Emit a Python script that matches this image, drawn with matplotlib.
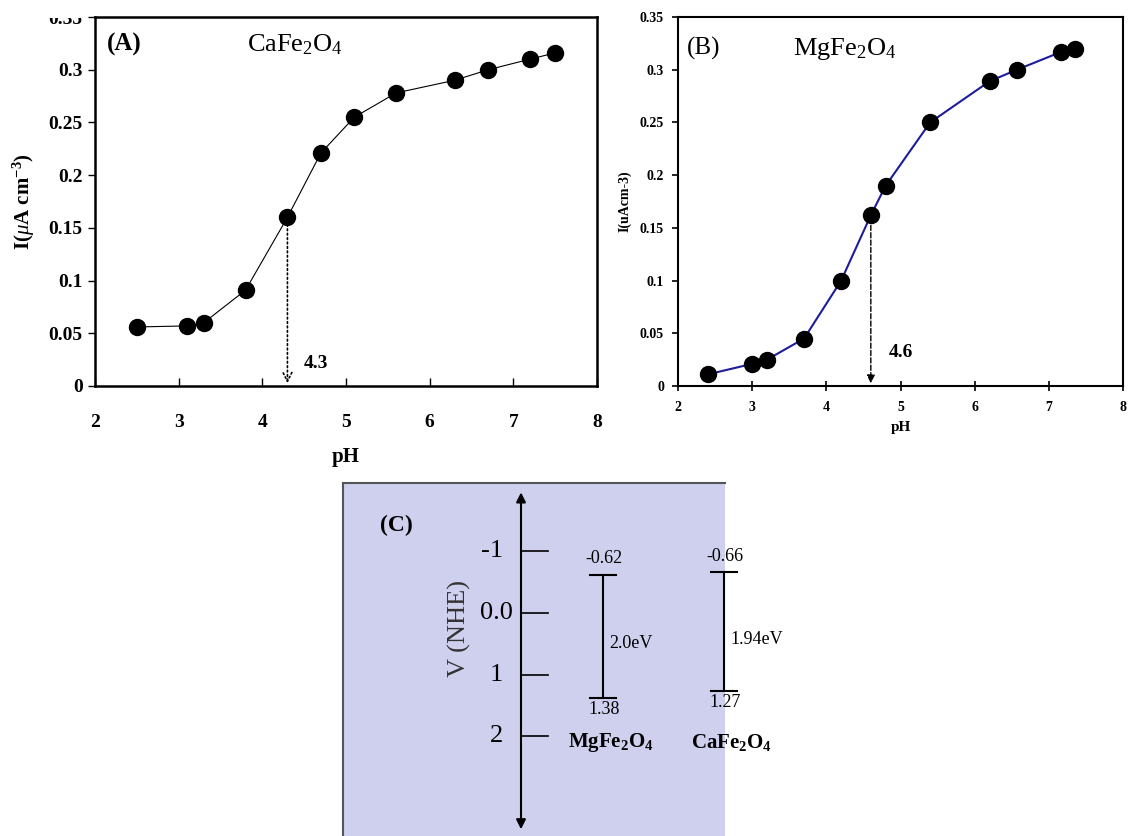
import matplotlib
matplotlib.use("Agg")
import matplotlib.pyplot as plt
from matplotlib.transforms import Bbox, TransformedBbox

plt.rcParams['font.family'] = ['Liberation Serif', 'DejaVu Serif']
plt.rcParams['mathtext.fontset'] = 'custom'
plt.rcParams['mathtext.rm'] = 'Liberation Serif'
plt.rcParams['mathtext.it'] = 'Liberation Serif:italic'
plt.rcParams['mathtext.bf'] = 'Liberation Serif:bold'

# -------------------------------
# DATA
# -------------------------------
ph_ca = [2.5, 3.1, 3.3, 3.8, 4.3, 4.7, 5.1, 5.6, 6.3, 6.7, 7.2, 7.5]
i_ca = [0.056, 0.057, 0.060, 0.091, 0.160, 0.221, 0.255, 0.278, 0.290, 0.300, 0.310, 0.316]

ph_mg = [2.4, 3.0, 3.2, 3.7, 4.2, 4.6, 4.8, 5.4, 6.2, 6.57, 7.17, 7.35]
i_mg = [0.011, 0.021, 0.025, 0.045, 0.100, 0.162, 0.190, 0.250, 0.289, 0.300, 0.317, 0.320]

pzc_ca = 4.3
pzc_mg = 4.6

x_ticks = [2, 3, 4, 5, 6, 7, 8]
y_ticks = [0, 0.05, 0.1, 0.15, 0.2, 0.25, 0.3, 0.35]
y_ticklabels = ['0', '0.05', '0.1', '0.15', '0.2', '0.25', '0.3', '0.35']

nhe_ticks = [-1, 0, 1, 2]
nhe_ticklabels = ['-1', '0.0', '1', '2']
materials = [r'$\mathbf{MgFe_2O_4}$', r'$\mathbf{CaFe_2O_4}$']
cb_edges = [-0.62, -0.66]
vb_edges = [1.38, 1.27]
band_gaps = ['2.0eV', '1.94eV']

fig = plt.figure(figsize=(11.3, 8.36), dpi=100)

# ===============================
# PANEL A
# ===============================
ax1 = fig.add_axes([95 / 1130, 450 / 836, 502 / 1130, 369 / 836])
ax1.plot(ph_ca, i_ca, color='black', lw=0.8, marker='o', ms=11.5, mfc='black', mec='black')
ax1.set_xlim(2, 8)
ax1.set_ylim(0, 0.35)
ax1.set_xticks(x_ticks)
ax1.set_yticks(y_ticks)
ax1.set_yticklabels(y_ticklabels)
ax1.tick_params(axis='x', direction='in', length=6, width=1, pad=20, labelsize=14)
ax1.tick_params(axis='y', direction='out', length=5, width=1, pad=4, labelsize=14)
for lab in ax1.get_xticklabels() + ax1.get_yticklabels():
    lab.set_fontweight('bold')
for s in ax1.spines.values():
    s.set_linewidth(1.8)
ax1.set_xlabel('pH', fontsize=15, fontweight='bold', labelpad=12)
ax1.set_ylabel(r'I($\mathit{\mu}$A cm$^{\mathbf{-3}}$)', fontsize=15, fontweight='bold', labelpad=8)
ax1.annotate('', xy=(pzc_ca, 0.0), xytext=(pzc_ca, i_ca[4]),
             arrowprops=dict(arrowstyle='->', ls=':', lw=1.2, color='black', mutation_scale=16))
ax1.text(pzc_ca + 0.2, 0.021, str(pzc_ca), fontsize=14, fontweight='bold', va='center')
ax1.text(2.14, 0.3235, '(A)', fontsize=18, fontweight='bold', va='center')
ax1.text(3.82, 0.3235, r'CaFe$_2$O$_4$', fontsize=19, va='center')

# top label is cut off in the source image
top_lab = ax1.get_yticklabels()[-1]
top_lab.set_clip_on(True)
top_lab.set_clip_box(TransformedBbox(Bbox([[0, 0], [1, (836 - 18) / 836]]), fig.transFigure))

# ===============================
# PANEL B
# ===============================
ax2 = fig.add_axes([678 / 1130, 450 / 836, 445 / 1130, 369 / 836])
ax2.plot(ph_mg, i_mg, color='#1c1c9c', lw=1.5, marker='o', ms=11.5, mfc='black', mec='black')
ax2.set_xlim(2, 8)
ax2.set_ylim(0, 0.35)
ax2.set_xticks(x_ticks)
ax2.set_yticks(y_ticks)
ax2.set_yticklabels(y_ticklabels)
ax2.tick_params(axis='x', direction='inout', length=7, width=1.2, pad=7, labelsize=10)
ax2.tick_params(axis='y', direction='out', length=4, width=1.2, pad=6, labelsize=10)
for lab in ax2.get_xticklabels() + ax2.get_yticklabels():
    lab.set_fontweight('bold')
for s in ax2.spines.values():
    s.set_linewidth(1.5)
ax2.set_xlabel('pH', fontsize=11, fontweight='bold', labelpad=5)
ax2.set_ylabel('I(uAcm-3)', fontsize=10, fontweight='bold', labelpad=6)
ax2.annotate('', xy=(pzc_mg, 0.0), xytext=(pzc_mg, i_mg[5]),
             arrowprops=dict(arrowstyle='-|>', ls='--', lw=1.0, color='black', mutation_scale=12))
ax2.text(4.84, 0.032, str(pzc_mg), fontsize=14, fontweight='bold', va='center')
ax2.text(2.12, 0.32, '(B)', fontsize=18, va='center')
ax2.text(3.55, 0.32, r'MgFe$_2$O$_4$', fontsize=19, va='center')

# ===============================
# PANEL C  (x in box pixels, y in V vs NHE)
# ===============================
ax3 = fig.add_axes([343 / 1130, 0, 382 / 1130, 353 / 836])
ax3.set_facecolor('#cfd0ee')
ax3.set_xlim(0, 382)
ax3.set_ylim(3.614, -2.107)
ax3.set_xticks([])
ax3.set_yticks([])
for side in ['right', 'bottom']:
    ax3.spines[side].set_visible(False)
for side in ['left', 'top']:
    ax3.spines[side].set_color('#555555')
    ax3.spines[side].set_linewidth(1.5)

axis_x = 178
ax3.annotate('', xy=(axis_x, -2.0), xytext=(axis_x, 3.55),
             arrowprops=dict(arrowstyle='<|-|>', lw=1.5, color='black', mutation_scale=14))
for v, lab in zip(nhe_ticks, nhe_ticklabels):
    ax3.plot([axis_x, axis_x + 27], [v, v], color='black', lw=1.2)
    ax3.text(axis_x - (8 if lab == '0.0' else 18), v, lab, fontsize=19, ha='right', va='center')
ax3.text(116, 0.25, 'V (NHE)', fontsize=19, rotation=90, ha='center', va='center', color='#333333')
ax3.text(37, -1.42, '(C)', fontsize=17, fontweight='bold', va='center')

bar_x = [260, 381]
for bx, mat, cb, vb, gap in zip(bar_x, materials, cb_edges, vb_edges, band_gaps):
    ax3.plot([bx, bx], [cb, vb], color='black', lw=1.5, clip_on=False)
    ax3.plot([bx - 13, bx + 13], [cb, cb], color='black', lw=1.5, clip_on=False)
    ax3.plot([bx - 13, bx + 13], [vb, vb], color='black', lw=1.5, clip_on=False)
    ax3.text(bx + 1, cb - 0.12, f'{cb:.2f}', fontsize=13, ha='center', va='bottom', clip_on=False)
    ax3.text(bx + 1, vb + 0.05, f'{vb:.2f}', fontsize=13, ha='center', va='top', clip_on=False)
    ax3.text(bx + 6, (cb + vb) / 2 + 0.12, gap, fontsize=13, ha='left', va='center', clip_on=False)
    ax3.text(bx + 8, 2.1, mat, fontsize=15, ha='center', va='center', clip_on=False)

fig.savefig('out.png', dpi=100)
